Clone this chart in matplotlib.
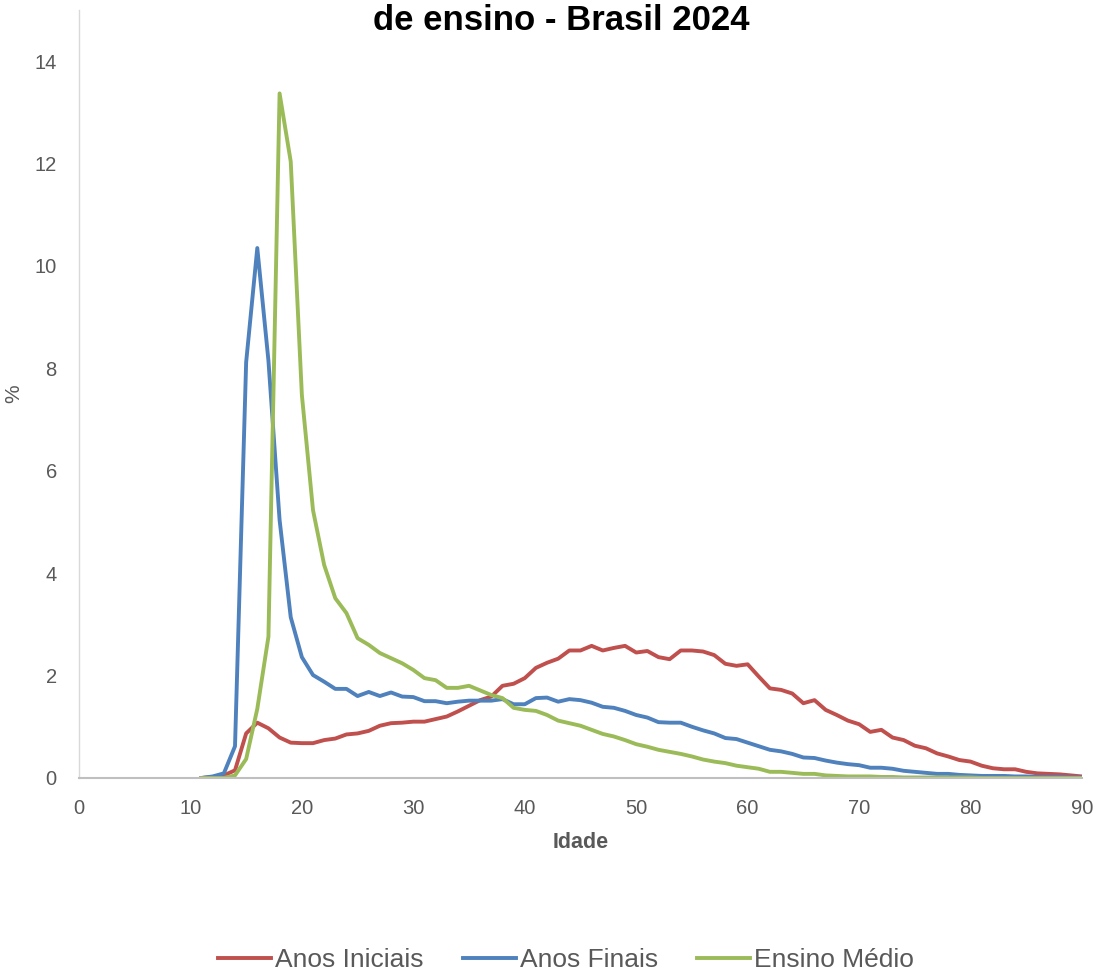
import matplotlib
matplotlib.use("Agg")
import matplotlib.pyplot as plt

plt.rcParams['font.family'] = ['Liberation Sans', 'DejaVu Sans']

idade = list(range(11, 91))

anos_iniciais = [
    0.00, 0.02, 0.05, 0.15, 0.87, 1.08, 0.97, 0.79, 0.69, 0.68,
    0.68, 0.74, 0.77, 0.85, 0.87, 0.92, 1.02, 1.07, 1.08, 1.10,
    1.10, 1.15, 1.20, 1.30, 1.41, 1.52, 1.59, 1.80, 1.84, 1.95,
    2.15, 2.25, 2.33, 2.49, 2.49, 2.58, 2.49, 2.54, 2.58, 2.45,
    2.48, 2.36, 2.32, 2.49, 2.49, 2.47, 2.40, 2.23, 2.19, 2.22,
    1.98, 1.75, 1.72, 1.65, 1.46, 1.52, 1.33, 1.23, 1.12, 1.05,
    0.90, 0.94, 0.79, 0.74, 0.63, 0.58, 0.48, 0.42, 0.35, 0.32,
    0.24, 0.19, 0.17, 0.17, 0.12, 0.09, 0.08, 0.07, 0.05, 0.03,
]

anos_finais = [
    0.00, 0.03, 0.09, 0.62, 8.12, 10.35, 8.15, 5.04, 3.14, 2.36,
    2.01, 1.88, 1.74, 1.74, 1.60, 1.68, 1.60, 1.67, 1.59, 1.58,
    1.50, 1.50, 1.46, 1.49, 1.51, 1.51, 1.51, 1.54, 1.44, 1.44,
    1.56, 1.57, 1.49, 1.54, 1.52, 1.47, 1.39, 1.37, 1.31, 1.23,
    1.18, 1.09, 1.08, 1.08, 1.00, 0.93, 0.87, 0.78, 0.76, 0.69,
    0.62, 0.55, 0.52, 0.47, 0.40, 0.39, 0.34, 0.30, 0.27, 0.25,
    0.20, 0.20, 0.18, 0.14, 0.12, 0.10, 0.08, 0.08, 0.06, 0.05,
    0.04, 0.04, 0.04, 0.03, 0.03, 0.02, 0.02, 0.02, 0.01, 0.01,
]

ensino_medio = [
    0.00, 0.00, 0.00, 0.05, 0.37, 1.35, 2.76, 13.37, 12.04, 7.48,
    5.23, 4.16, 3.51, 3.22, 2.73, 2.60, 2.44, 2.34, 2.24, 2.11,
    1.95, 1.91, 1.76, 1.76, 1.80, 1.71, 1.62, 1.56, 1.37, 1.33,
    1.31, 1.23, 1.12, 1.07, 1.02, 0.94, 0.86, 0.81, 0.74, 0.66,
    0.61, 0.55, 0.51, 0.47, 0.42, 0.36, 0.32, 0.29, 0.24, 0.21,
    0.18, 0.12, 0.12, 0.10, 0.08, 0.08, 0.05, 0.04, 0.03, 0.03,
    0.03, 0.02, 0.02, 0.01, 0.01, 0.01, 0.01, 0.01, 0.01, 0.01,
    0.00, 0.00, 0.00, 0.00, 0.00, 0.00, 0.00, 0.00, 0.00, 0.00,
]

series = [
    ("Anos Iniciais", anos_iniciais, "#C0504D"),
    ("Anos Finais", anos_finais, "#4F81BD"),
    ("Ensino Médio", ensino_medio, "#9BBB59"),
]

fig = plt.figure(figsize=(10.97, 9.76), dpi=100)
ax = fig.add_axes([0.072, 0.2029, 0.9143, 0.7869])

for nome, vals, cor in series:
    ax.plot(idade, vals, color=cor, lw=2.8, label=nome, solid_joinstyle='round')

ax.set_xlim(0, 90)
ax.set_ylim(0, 15)
ax.set_xticks(range(0, 91, 10))
ax.set_yticks(range(0, 15, 2))
ax.tick_params(length=0, labelsize=14.5, colors="#595959")
ax.tick_params(axis='x', pad=15)
ax.tick_params(axis='y', pad=16)

for s in ['top', 'right']:
    ax.spines[s].set_visible(False)
ax.spines['bottom'].set_color("#BFBFBF")
ax.spines['bottom'].set_linewidth(1.5)
ax.spines['left'].set_color("#D9D9D9")
ax.spines['left'].set_linewidth(1)

ax.set_xlabel("Idade", fontsize=15.5, fontweight='bold', color="#595959", labelpad=10)
ax.set_ylabel("%", fontsize=15, color="#595959", labelpad=8)

fig.text(0.512, 0.969, "de ensino - Brasil 2024", ha='center', va='baseline',
         fontsize=25, fontweight='bold', color='black')

fig.legend(loc='center', bbox_to_anchor=(0.516, 0.0164), ncol=3, frameon=False,
           fontsize=19, handlelength=2.0, handletextpad=0.15, columnspacing=1.5,
           labelcolor="#595959")

fig.savefig("out.png", dpi=100)
